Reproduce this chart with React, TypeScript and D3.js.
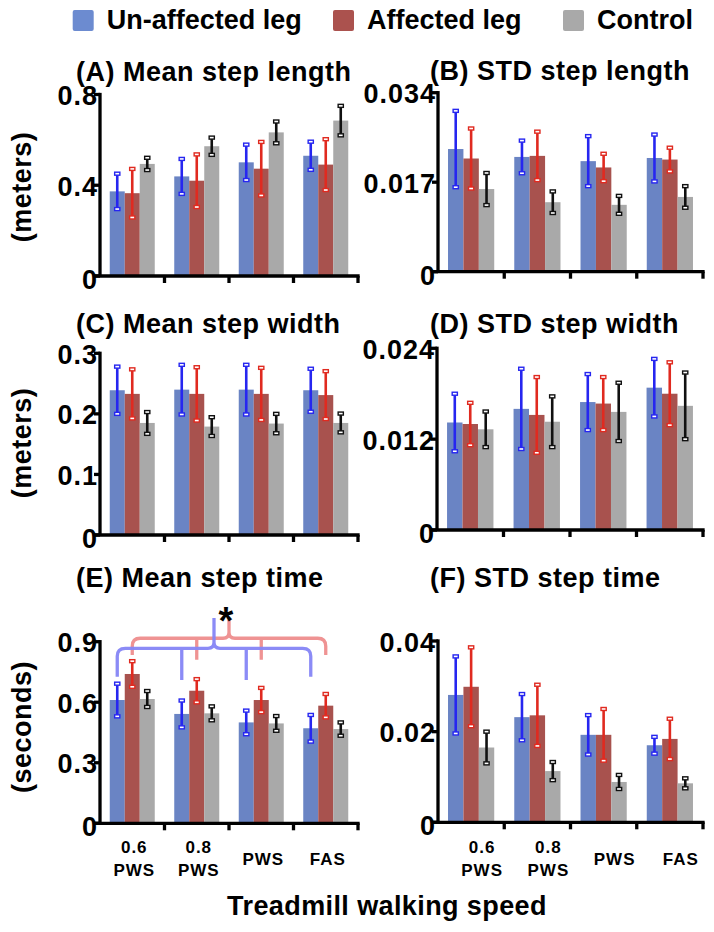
import React from "react";
import * as d3 from "d3";

// ---------- DATA ----------
const categories = ["0.6 PWS", "0.8 PWS", "PWS", "FAS"];
const categoryLabelLines = [["0.6", "PWS"], ["0.8", "PWS"], ["PWS"], ["FAS"]];
const seriesNames = ["Un-affected leg", "Affected leg", "Control"];

// (A) Mean step length (meters)
const A_unaffected = [0.373, 0.439, 0.501, 0.53];
const A_unaffected_sd = [0.078, 0.077, 0.078, 0.062];
const A_affected = [0.365, 0.42, 0.473, 0.491];
const A_affected_sd = [0.107, 0.116, 0.118, 0.112];
const A_control = [0.494, 0.572, 0.633, 0.685];
const A_control_sd = [0.027, 0.038, 0.048, 0.065];
const A_ticks = [0, 0.4, 0.8];
const A_tickLabels = ["0", "0.4", "0.8"];

// (B) STD step length (meters)
const B_unaffected = [0.0233, 0.0218, 0.021, 0.0216];
const B_unaffected_sd = [0.00725, 0.0031, 0.00475, 0.00445];
const B_affected = [0.0215, 0.022, 0.0198, 0.0213];
const B_affected_sd = [0.0057, 0.0046, 0.0026, 0.00225];
const B_control = [0.0157, 0.0132, 0.0127, 0.0142];
const B_control_sd = [0.00305, 0.00205, 0.0017, 0.00205];
const B_ticks = [0, 0.017, 0.034];
const B_tickLabels = ["0", "0.017", "0.034"];

// (C) Mean step width (meters)
const C_unaffected = [0.239, 0.24, 0.24, 0.239];
const C_unaffected_sd = [0.039, 0.041, 0.041, 0.0355];
const C_affected = [0.233, 0.233, 0.233, 0.231];
const C_affected_sd = [0.0405, 0.044, 0.043, 0.0395];
const C_control = [0.185, 0.179, 0.184, 0.185];
const C_control_sd = [0.018, 0.0155, 0.016, 0.0155];
const C_ticks = [0, 0.1, 0.2, 0.3];
const C_tickLabels = ["0", "0.1", "0.2", "0.3"];

// (D) STD step width (meters)
const D_unaffected = [0.0142, 0.016, 0.0169, 0.0188];
const D_unaffected_sd = [0.0038, 0.0053, 0.0037, 0.0038];
const D_affected = [0.014, 0.0152, 0.0167, 0.018];
const D_affected_sd = [0.0028, 0.005, 0.0035, 0.00415];
const D_control = [0.0133, 0.0143, 0.0156, 0.0164];
const D_control_sd = [0.00235, 0.00335, 0.00385, 0.0044];
const D_ticks = [0, 0.012, 0.024];
const D_tickLabels = ["0", "0.012", "0.024"];

// (E) Mean step time (seconds)
const E_unaffected = [0.611, 0.542, 0.5, 0.471];
const E_unaffected_sd = [0.081, 0.0665, 0.0585, 0.066];
const E_affected = [0.74, 0.657, 0.611, 0.583];
const E_affected_sd = [0.0635, 0.0575, 0.06, 0.058];
const E_control = [0.616, 0.545, 0.495, 0.467];
const E_control_sd = [0.0395, 0.0345, 0.0365, 0.033];
const E_ticks = [0, 0.3, 0.6, 0.9];
const E_tickLabels = ["0", "0.3", "0.6", "0.9"];

// (F) STD step time (seconds)
const F_unaffected = [0.0281, 0.0232, 0.0193, 0.017];
const F_unaffected_sd = [0.0085, 0.0051, 0.00435, 0.00185];
const F_affected = [0.0299, 0.0236, 0.0193, 0.0184];
const F_affected_sd = [0.0087, 0.00675, 0.0057, 0.00445];
const F_control = [0.0165, 0.0113, 0.0089, 0.0086];
const F_control_sd = [0.0035, 0.002, 0.00155, 0.0011];
const F_ticks = [0, 0.02, 0.04];
const F_tickLabels = ["0", "0.02", "0.04"];

// significance brace levels (data units, panel E)
const braceUnaffected = { line: 0.867, end: 0.726, tick: 0.71, peak: 1.017 };
const braceAffected = { line: 0.917, end: 0.834, tick: 0.81, peak: 1.007 };

// ---------- STYLE ----------
const FONT = "'Liberation Sans', Arial, Helvetica, sans-serif";
const barColors = ["#6a84c4", "#a8524e", "#a9a9a9"];
const errColors = ["#2626f0", "#e02a20", "#111111"];
const legendColors = ["#6c8bd0", "#ab524e", "#a9a9a9"];

type PanelCfg = {
  title: string;
  means: number[][];
  sds: number[][];
  ticks: number[];
  tickLabels: string[];
  x0: number;
  x1: number;
  yTop: number;
  yBot: number;
  titleX: number;
  titleY: number;
  yLabel?: string;
  yLabelY?: number;
  xLabels?: boolean;
  xLabelDx?: number;
  brace?: boolean;
};

const panels: PanelCfg[] = [
  {
    title: "(A) Mean step length",
    means: [A_unaffected, A_affected, A_control],
    sds: [A_unaffected_sd, A_affected_sd, A_control_sd],
    ticks: A_ticks, tickLabels: A_tickLabels,
    x0: 100, x1: 358, yTop: 94.5, yBot: 276, titleX: 76, titleY: 80.5,
    yLabel: "(meters)", yLabelY: 187,
  },
  {
    title: "(B) STD step length",
    means: [B_unaffected, B_affected, B_control],
    sds: [B_unaffected_sd, B_affected_sd, B_control_sd],
    ticks: B_ticks, tickLabels: B_tickLabels,
    x0: 438, x1: 703, yTop: 92.7, yBot: 271.7, titleX: 430, titleY: 80,
  },
  {
    title: "(C) Mean step width",
    means: [C_unaffected, C_affected, C_control],
    sds: [C_unaffected_sd, C_affected_sd, C_control_sd],
    ticks: C_ticks, tickLabels: C_tickLabels,
    x0: 100, x1: 358, yTop: 353.3, yBot: 535, titleX: 76, titleY: 333,
    yLabel: "(meters)", yLabelY: 443,
  },
  {
    title: "(D) STD step width",
    means: [D_unaffected, D_affected, D_control],
    sds: [D_unaffected_sd, D_affected_sd, D_control_sd],
    ticks: D_ticks, tickLabels: D_tickLabels,
    x0: 437, x1: 703, yTop: 348.3, yBot: 530, titleX: 430, titleY: 333,
  },
  {
    title: "(E) Mean step time",
    means: [E_unaffected, E_affected, E_control],
    sds: [E_unaffected_sd, E_affected_sd, E_control_sd],
    ticks: E_ticks, tickLabels: E_tickLabels,
    x0: 100, x1: 358, yTop: 641.7, yBot: 823.3, titleX: 76, titleY: 587,
    yLabel: "(seconds)", yLabelY: 727, xLabels: true, xLabelDx: 2, brace: true,
  },
  {
    title: "(F) STD step time",
    means: [F_unaffected, F_affected, F_control],
    sds: [F_unaffected_sd, F_affected_sd, F_control_sd],
    ticks: F_ticks, tickLabels: F_tickLabels,
    x0: 438, x1: 703, yTop: 641, yBot: 822.3, titleX: 430, titleY: 587,
    xLabels: true, xLabelDx: 11,
  },
];

function bracePath(xs: number[], y: d3.ScaleLinear<number, number>, lv: { line: number; end: number; tick: number; peak: number }) {
  const r = 8;
  const yl = y(lv.line);
  const ye = y(lv.end);
  const yp = y(lv.peak);
  const left = xs[0];
  const right = xs[xs.length - 1];
  const mid = (left + right) / 2;
  const r2 = 6;
  let p = `M${left},${ye} L${left},${yl + r} Q${left},${yl} ${left + r},${yl} L${mid - r2},${yl} Q${mid},${yl} ${mid},${yl - r2} L${mid},${yp}`;
  p += ` M${mid},${yl - r2} Q${mid},${yl} ${mid + r2},${yl} L${right - r},${yl} Q${right},${yl} ${right},${yl + r} L${right},${ye}`;
  for (let i = 1; i < xs.length - 1; i++) {
    p += ` M${xs[i]},${yl} L${xs[i]},${y(lv.tick)}`;
  }
  return p;
}

function Panel({ cfg }: { cfg: PanelCfg }) {
  const yMax = cfg.ticks[cfg.ticks.length - 1];
  const y = d3.scaleLinear().domain([0, yMax]).range([cfg.yBot, cfg.yTop]);
  const xBand = d3.scaleBand<string>().domain(categories).range([cfg.x0, cfg.x1]).padding(0);
  const inner = d3
    .scaleBand<string>()
    .domain(seriesNames)
    .range([0, xBand.bandwidth()])
    .paddingInner(0)
    .paddingOuter(0.65);
  const bw = inner.bandwidth();
  const axisW = 3.3;
  const boundaries = d3.range(categories.length + 1).map((i) => cfg.x0 + i * xBand.step());

  return (
    <g>
      <text x={cfg.titleX} y={cfg.titleY} fontFamily={FONT} fontWeight="bold" fontSize={27} letterSpacing={0.5} fill="#000">
        {cfg.title}
      </text>
      {cfg.yLabel && (
        <text
          transform={`translate(22,${cfg.yLabelY}) rotate(-90)`}
          textAnchor="middle"
          dominantBaseline="central"
          fontFamily={FONT}
          fontWeight="bold"
          fontSize={27}
          letterSpacing={0.5}
        >
          {cfg.yLabel}
        </text>
      )}
      {/* bars */}
      {seriesNames.map((s, si) =>
        categories.map((c, ci) => {
          const v = cfg.means[si][ci];
          const x = (xBand(c) as number) + (inner(s) as number);
          return (
            <rect key={`b${si}-${ci}`} x={x} y={y(v)} width={bw} height={y(0) - y(v)} fill={barColors[si]} />
          );
        })
      )}
      {/* error bars */}
      {seriesNames.map((s, si) =>
        categories.map((c, ci) => {
          const v = cfg.means[si][ci];
          const e = cfg.sds[si][ci];
          const cx = (xBand(c) as number) + (inner(s) as number) + bw / 2;
          const yHi = y(v + e);
          const yLo = y(v - e);
          return (
            <g key={`e${si}-${ci}`}>
              <line x1={cx} x2={cx} y1={yLo} y2={yHi} stroke={errColors[si]} strokeWidth={2.6} />
              <rect x={cx - 2.6} y={yHi - 1.5} width={5.2} height={3} fill="#fff" stroke={errColors[si]} strokeWidth={1.4} />
              <rect x={cx - 2.6} y={yLo - 1.5} width={5.2} height={3} fill="#fff" stroke={errColors[si]} strokeWidth={1.4} />
            </g>
          );
        })
      )}
      {/* axes */}
      <line x1={cfg.x0} x2={cfg.x0} y1={cfg.yBot} y2={y(yMax) - axisW / 2} stroke="#000" strokeWidth={axisW} />
      <line x1={cfg.x0 - 6} x2={cfg.x1 + axisW / 2} y1={cfg.yBot} y2={cfg.yBot} stroke="#000" strokeWidth={axisW} />
      {cfg.ticks.map((t, i) => (
        <g key={`yt${i}`}>
          <line x1={cfg.x0 - 6} x2={cfg.x0} y1={y(t)} y2={y(t)} stroke="#000" strokeWidth={axisW} />
          <text
            x={cfg.x0 - 2}
            y={y(t) + (t === 0 ? 4 : 1.5)}
            textAnchor="end"
            dominantBaseline="central"
            fontFamily={FONT}
            fontWeight="bold"
            fontSize={27}
            letterSpacing={1}
          >
            {cfg.tickLabels[i]}
          </text>
        </g>
      ))}
      {boundaries.slice(1).map((bx, i) => (
        <line key={`xt${i}`} x1={bx} x2={bx} y1={cfg.yBot} y2={cfg.yBot + 7} stroke="#000" strokeWidth={axisW} />
      ))}
      {cfg.xLabels &&
        categories.map((c, ci) => {
          const lines = categoryLabelLines[ci];
          const cx = (xBand(c) as number) + xBand.bandwidth() / 2 + (cfg.xLabelDx || 0);
          return (
            <text key={`xl${ci}`} textAnchor="middle" fontFamily={FONT} fontWeight="bold" fontSize={17} letterSpacing={1}>
              {lines.map((ln, li) => (
                <tspan key={li} x={cx} y={864.5 + (li - (lines.length - 1) / 2) * 23}>
                  {ln}
                </tspan>
              ))}
            </text>
          );
        })}
      {cfg.brace && (
        <g fill="none" strokeWidth={3.3}>
          <path
            d={bracePath(categories.map((c) => (xBand(c) as number) + (inner(seriesNames[1]) as number) + bw / 2), y, braceAffected)}
            stroke="#ef9393"
          />
          <path
            d={bracePath(categories.map((c) => (xBand(c) as number) + (inner(seriesNames[0]) as number) + bw / 2), y, braceUnaffected)}
            stroke="#8585f6"
            strokeOpacity={0.95}
          />
          <text x={226} y={634} textAnchor="middle" fontFamily={FONT} fontWeight="bold" fontSize={38} fill="#000" stroke="none">
            *
          </text>
        </g>
      )}
    </g>
  );
}

const legendX = [72.7, 333, 563];

export default function App() {
  return (
    <svg
      width={714}
      height={932}
      viewBox="0 0 714 932"
      style={{ position: "absolute", left: 0, top: 0, background: "#fff" }}
    >
      <rect x={0} y={0} width={714} height={932} fill="#fff" />
      {seriesNames.map((s, i) => (
        <g key={s}>
          <rect x={legendX[i]} y={10} width={21} height={21} rx={2} fill={legendColors[i]} />
          <text x={legendX[i] + 34} y={28.5} fontFamily={FONT} fontWeight="bold" fontSize={27}>
            {s}
          </text>
        </g>
      ))}
      {panels.map((p, i) => (
        <Panel key={i} cfg={p} />
      ))}
      <text x={387} y={915} textAnchor="middle" fontFamily={FONT} fontWeight="bold" fontSize={27} letterSpacing={0.4}>
        Treadmill walking speed
      </text>
    </svg>
  );
}
